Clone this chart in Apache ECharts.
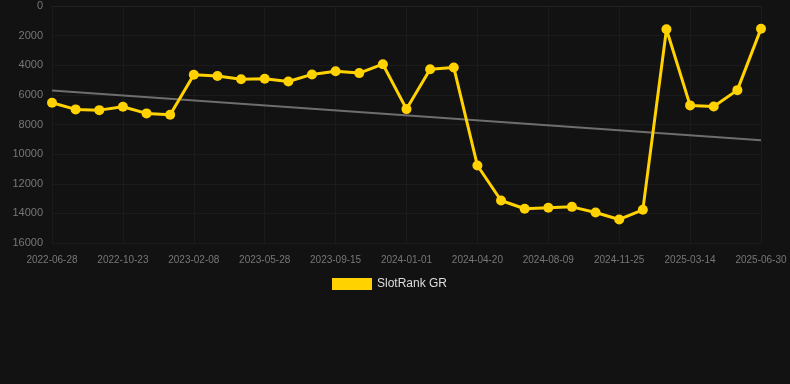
<!DOCTYPE html>
<html>
<head>
<meta charset="utf-8">
<script src="https://cdn.jsdelivr.net/npm/echarts@6/dist/echarts.min.js"></script>
<style>
  html, body { margin: 0; padding: 0; background: #121212; }
  #chart { width: 790px; height: 384px; }
</style>
</head>
<body>
<div id="chart"></div>
<script>
// category dates (every third one is labelled)
const dates = [
  '2022-06-28', '2022-08-06', '2022-09-14', '2022-10-23', '2022-11-28', '2023-01-03',
  '2023-02-08', '2023-03-15', '2023-04-21', '2023-05-28', '2023-07-04', '2023-08-09',
  '2023-09-15', '2023-10-21', '2023-11-26', '2024-01-01', '2024-02-06', '2024-03-14',
  '2024-04-20', '2024-05-27', '2024-07-03', '2024-08-09', '2024-09-14', '2024-10-20',
  '2024-11-25', '2024-12-31', '2025-02-06', '2025-03-14', '2025-04-20', '2025-05-25',
  '2025-06-30'
];
// rank values (lower is better, axis is inverted)
const rankGR = [
  6530, 6980, 7030, 6800, 7250, 7340,
  4640, 4730, 4950, 4910, 5100, 4620,
  4400, 4530, 3930, 6960, 4270, 4150,
  10770, 13130, 13690, 13620, 13560, 13940,
  14410, 13760, 1570, 6710, 6780, 5680,
  1530
];
// trend line end values
const trendEnds = [5710, 9070];
const seriesName = 'SlotRank GR';
const font = 'Arial, Liberation Sans, sans-serif';

const chart = echarts.init(document.getElementById('chart'));
chart.setOption({
  backgroundColor: '#121212',
  animation: false,
  grid: { left: 52, right: 29, top: 6, bottom: 141 },
  legend: {
    data: [seriesName],
    top: 273,
    left: 327,
    itemWidth: 40,
    itemHeight: 12,
    icon: 'rect',
    textStyle: { color: '#dddddd', fontSize: 12, fontFamily: font }
  },
  xAxis: {
    type: 'category',
    data: dates,
    boundaryGap: false,
    axisLine: { lineStyle: { color: '#222222' } },
    axisTick: { show: false },
    axisLabel: { interval: 2, color: '#777777', fontSize: 10, margin: 12, fontFamily: font },
    splitLine: { show: true, interval: 2, lineStyle: { color: '#1b1b1b' } }
  },
  yAxis: {
    type: 'value',
    inverse: true,
    min: 0,
    max: 16000,
    interval: 2000,
    axisLine: { show: false },
    axisTick: { show: false },
    axisLabel: { color: '#777777', fontSize: 11, margin: 9, fontFamily: font, formatter: v => String(v) },
    splitLine: { lineStyle: { color: '#1b1b1b' } }
  },
  series: [
    {
      name: 'trend',
      type: 'line',
      data: [[0, trendEnds[0]], [dates.length - 1, trendEnds[1]]],
      symbol: 'none',
      lineStyle: { color: '#6e6e6e', width: 2 },
      silent: true,
      z: 1
    },
    {
      name: seriesName,
      type: 'line',
      data: rankGR,
      symbol: 'circle',
      symbolSize: 10,
      itemStyle: { color: '#FFD200' },
      lineStyle: { color: '#FFD200', width: 3 },
      z: 2
    }
  ]
});
</script>
</body>
</html>
